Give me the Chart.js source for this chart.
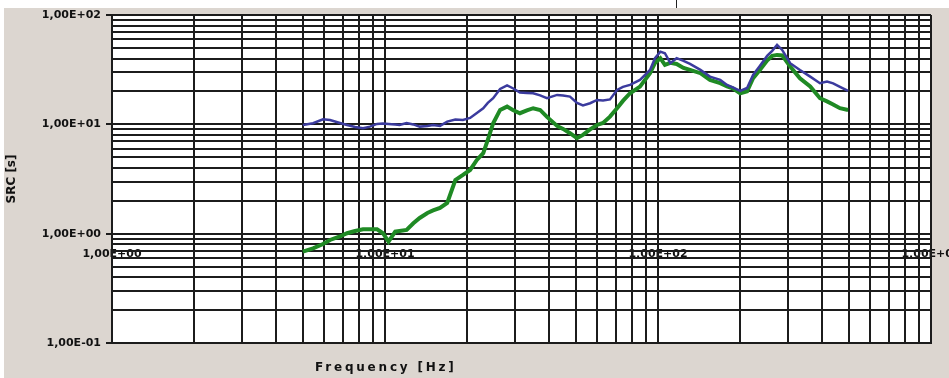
<!DOCTYPE html>
<html>
<head>
<meta charset="utf-8">
<script src="https://cdn.jsdelivr.net/npm/chart.js@4/dist/chart.umd.min.js"></script>
<style>
  html, body { margin: 0; padding: 0; background: #ffffff; }
  #wrap { position: relative; width: 949px; height: 378px; overflow: hidden; }
  #panel { position: absolute; left: 4px; top: 8px; right: 0; bottom: 0; background: #dcd6d0; }
  #mark { position: absolute; left: 676px; top: 0; width: 1px; height: 8px; background: #222; }
  #src-chart { position: absolute; left: 0; top: 0; }
</style>
</head>
<body>
<div id="wrap">
  <div id="panel"></div>
  <div id="mark"></div>
  <canvas id="src-chart" width="949" height="378"></canvas>
</div>
<script>
// Frequences [Hz]
const freqs = [5.0, 5.45, 5.93, 6.29, 6.84, 7.26, 7.77, 8.31, 8.81, 9.35,
  9.83, 10.3, 10.9, 11.3, 12.0, 12.7, 13.4, 14.3, 15.0, 15.9,
  16.9, 18.1, 19.3, 20.5, 21.7, 22.9, 23.8, 24.9, 26.4, 28.0,
  29.4, 31.2, 33.1, 34.9, 37.0, 39.2, 42.7, 44.9, 47.6, 50.5,
  53.1, 56.4, 59.8, 62.9, 66.7, 70.8, 74.4, 79.0, 85.9, 93.5,
  97.5, 102, 106, 111, 117, 124, 131, 143, 155, 169,
  179, 188, 200, 212, 223, 236, 251, 262, 273, 285,
  305, 331, 361, 392, 416, 438, 464, 497];

// SRC [s] - courbe bleue
const blueValues = [9.87, 10.23, 11.13, 10.97, 10.30, 9.87, 9.47, 9.21, 9.53, 10.09,
  10.19, 10.09, 9.98, 9.87, 10.30, 9.98, 9.53, 9.67, 9.87, 9.67,
  10.58, 11.09, 10.97, 11.44, 12.72, 14.04, 15.70, 17.33, 21.09, 22.70,
  21.39, 19.50, 19.38, 19.25, 18.38, 17.33, 18.58, 18.38, 17.92, 15.70,
  14.89, 15.60, 16.72, 16.54, 16.90, 20.64, 21.99, 22.94, 25.48, 31.45,
  40.26, 46.26, 44.73, 36.23, 40.26, 38.02, 35.70, 31.45, 27.32, 25.48,
  22.94, 21.76, 20.21, 21.53, 28.31, 34.22, 42.25, 46.96, 53.27, 47.93,
  36.23, 31.45, 27.32, 23.77, 24.59, 23.67, 21.99, 20.21];

// SRC [s] - courbe verte
const greenValues = [0.684, 0.735, 0.805, 0.876, 0.943, 1.009, 1.058, 1.097, 1.097, 1.097,
  1.009, 0.845, 1.043, 1.058, 1.081, 1.245, 1.392, 1.547, 1.630, 1.719,
  1.909, 3.099, 3.444, 3.826, 4.724, 5.441, 7.199, 10.23, 13.54, 14.52,
  13.54, 12.64, 13.41, 14.04, 13.54, 11.69, 9.67, 9.08, 8.29, 7.46,
  8.00, 8.98, 9.87, 10.30, 11.76, 14.04, 16.37, 19.25, 22.13, 29.35,
  36.47, 40.26, 34.96, 36.47, 35.70, 32.81, 31.45, 29.35, 25.48, 23.77,
  22.23, 21.39, 19.25, 20.00, 26.41, 31.45, 38.43, 42.25, 43.15, 42.70,
  33.73, 26.41, 22.23, 17.33, 16.20, 15.21, 14.04, 13.54];

// Graduations
const xMajor = [1, 10, 100, 1000];
const xMajorLabels = ['1,00E+00', '1,00E+01', '1,00E+02', '1,00E+03'];
const yMajor = [0.1, 1, 10, 100];
const yMajorLabels = ['1,00E-01', '1,00E+00', '1,00E+01', '1,00E+02'];
const minorSteps = [1, 2, 3, 4, 5, 6, 7, 8, 9];

function logGrid(majors) {
    const out = [];
    for (let d = 0; d < majors.length - 1; d++) {
        minorSteps.forEach(function(m) {
            out.push(+(majors[d] * m).toPrecision(6));
        });
    }
    out.push(majors[majors.length - 1]);
    return out;
}

const gridColor = '#1c1c1c';
const labelFont = 'bold 11px "DejaVu Sans", sans-serif';

const decorPlugin = {
    id: 'decor',
    beforeDraw: function(chart) {
        const ctx = chart.ctx;
        const a = chart.chartArea;
        ctx.save();
        ctx.fillStyle = '#ffffff';
        ctx.fillRect(a.left, a.top, a.right - a.left, a.bottom - a.top);
        // etiquettes de l'axe X, posees sur la ligne y = 1
        const xs = chart.scales.x;
        const y0 = chart.scales.y.getPixelForValue(1);
        ctx.fillStyle = '#111111';
        ctx.font = labelFont;
        ctx.textAlign = 'center';
        ctx.textBaseline = 'middle';
        xMajor.forEach(function(v, i) {
            ctx.fillText(xMajorLabels[i], xs.getPixelForValue(v), y0 + 20);
        });
        ctx.restore();
    },
    afterDraw: function(chart) {
        const ctx = chart.ctx;
        ctx.save();
        ctx.fillStyle = '#111111';
        ctx.font = 'bold 12px "DejaVu Sans", sans-serif';
        ctx.letterSpacing = '2.8px';
        ctx.textAlign = 'left';
        ctx.textBaseline = 'middle';
        ctx.fillText('Frequency [Hz]', 315, 368);
        ctx.restore();
    }
};

document.addEventListener('DOMContentLoaded', function() {
    const srcCtx = document.getElementById('src-chart');

    new Chart(srcCtx, {
        type: 'line',
        data: {
            datasets: [
                {
                    label: 'SRC 1',
                    data: freqs.map(function(f, i) { return {x: f, y: blueValues[i]}; }),
                    borderColor: '#3b3b9e',
                    borderWidth: 2.5,
                    pointRadius: 0,
                    tension: 0,
                    fill: false
                },
                {
                    label: 'SRC 2',
                    data: freqs.map(function(f, i) { return {x: f, y: greenValues[i]}; }),
                    borderColor: '#1f8a24',
                    borderWidth: 4,
                    pointRadius: 0,
                    tension: 0,
                    fill: false
                }
            ]
        },
        options: {
            responsive: false,
            animation: false,
            layout: {
                padding: {top: 15, right: 18, bottom: 0, left: 0}
            },
            plugins: {
                legend: {display: false},
                tooltip: {enabled: false}
            },
            scales: {
                x: {
                    type: 'logarithmic',
                    min: 1,
                    max: 1000,
                    afterBuildTicks: function(scale) {
                        scale.ticks = logGrid(xMajor).map(function(v) { return {value: v}; });
                    },
                    afterFit: function(scale) {
                        scale.height = 35;
                    },
                    ticks: {display: false, autoSkip: false},
                    grid: {
                        color: gridColor,
                        lineWidth: 2,
                        drawTicks: false
                    },
                    border: {color: gridColor, width: 2}
                },
                y: {
                    type: 'logarithmic',
                    min: 0.1,
                    max: 100,
                    afterBuildTicks: function(scale) {
                        scale.ticks = logGrid(yMajor).map(function(v) { return {value: v}; });
                    },
                    afterFit: function(scale) {
                        scale.width = 112;
                    },
                    ticks: {
                        autoSkip: false,
                        padding: 5,
                        color: '#111111',
                        font: {family: '"DejaVu Sans", sans-serif', size: 11, weight: 'bold'},
                        callback: function(value) {
                            const i = yMajor.indexOf(value);
                            return i >= 0 ? yMajorLabels[i] : '';
                        }
                    },
                    grid: {
                        color: gridColor,
                        lineWidth: 2,
                        tickLength: 6,
                        tickColor: function(c) {
                            return c.tick && yMajor.indexOf(c.tick.value) >= 0 ? gridColor : 'rgba(0,0,0,0)';
                        }
                    },
                    border: {color: gridColor, width: 2},
                    title: {
                        display: true,
                        text: 'SRC [s]',
                        color: '#111111',
                        padding: {top: 5, bottom: 0},
                        font: {family: '"DejaVu Sans", sans-serif', size: 12, weight: 'bold'}
                    }
                }
            }
        },
        plugins: [decorPlugin]
    });
});
</script>
</body>
</html>
